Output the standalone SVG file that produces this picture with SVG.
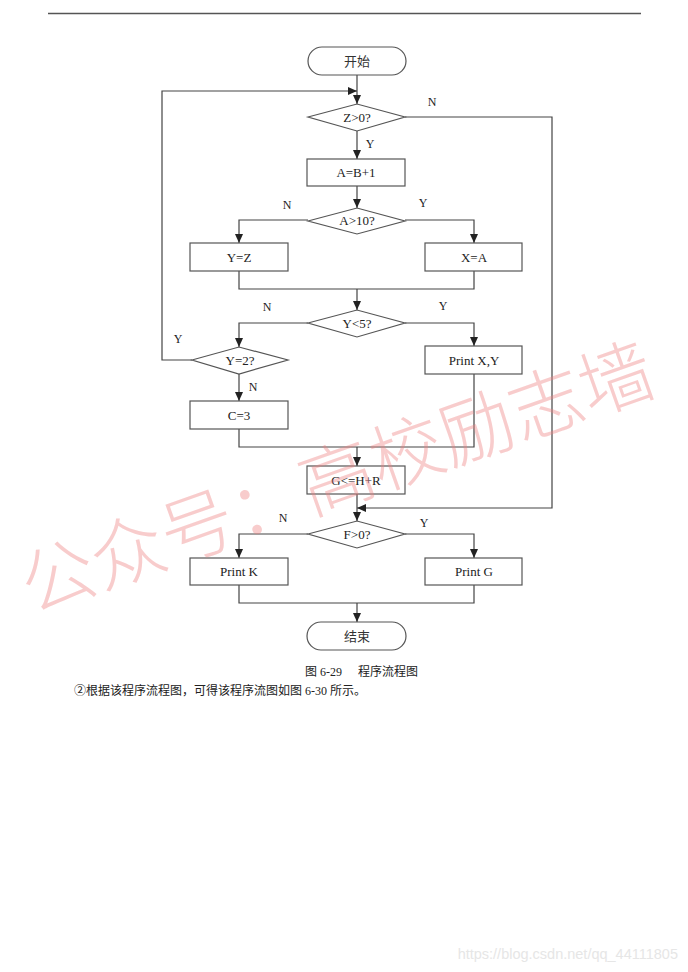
<svg xmlns="http://www.w3.org/2000/svg" width="688" height="972" viewBox="0 0 688 972">
<style>
.n{fill:#fff;stroke:#555;stroke-width:1.2}
.t{font-family:"Liberation Serif","Noto Sans CJK SC",serif;font-size:13px;fill:#222;text-anchor:middle}
.c{font-family:"Noto Sans CJK SC",sans-serif;font-size:13px;fill:#333;text-anchor:middle}
.l{font-family:"Liberation Serif",serif;font-size:12px;fill:#222;text-anchor:middle}
.e{fill:none;stroke:#444;stroke-width:1.2}
.cap{font-family:"Liberation Serif","Noto Sans CJK SC",serif;font-size:12px;fill:#222}
</style>
<defs>
<marker id="arr" markerWidth="9" markerHeight="8" refX="9" refY="4" orient="auto" markerUnits="userSpaceOnUse"><path d="M0,0 L9,4 L0,8 z" fill="#222"/></marker>
</defs>
<rect width="688" height="972" fill="#fff"/>
<line x1="48" y1="13.5" x2="641" y2="13.5" stroke="#555" stroke-width="1.3"/>

<g id="connectors">
<path class="e" d="M357,75 V104" marker-end="url(#arr)"/>
<path class="e" d="M192,360 H162 V91 H357" marker-end="url(#arr)"/>
<path class="e" d="M405,117 H552 V508 H357" marker-end="url(#arr)"/>
<path class="e" d="M357,131 V159" marker-end="url(#arr)"/>
<path class="e" d="M357,186 V208" marker-end="url(#arr)"/>
<path class="e" d="M308,220 H239 V243" marker-end="url(#arr)"/>
<path class="e" d="M405,220 H474 V243" marker-end="url(#arr)"/>
<path class="e" d="M239,271 V289 H474 V271"/>
<path class="e" d="M357,289 V310" marker-end="url(#arr)"/>
<path class="e" d="M308,323 H239 V347" marker-end="url(#arr)"/>
<path class="e" d="M405,323 H474 V346" marker-end="url(#arr)"/>
<path class="e" d="M239,374 V401" marker-end="url(#arr)"/>
<path class="e" d="M239,429 V447 H474 V374"/>
<path class="e" d="M357,447 V466" marker-end="url(#arr)"/>
<path class="e" d="M357,494 V521" marker-end="url(#arr)"/>
<path class="e" d="M308,534 H239 V558" marker-end="url(#arr)"/>
<path class="e" d="M405,534 H474 V558" marker-end="url(#arr)"/>
<path class="e" d="M239,585 V603 H474 V585"/>
<path class="e" d="M357,603 V622" marker-end="url(#arr)"/>
<text class="l" x="370" y="148">Y</text>
<text class="l" x="432" y="106">N</text>
<text class="l" x="287" y="209">N</text>
<text class="l" x="423" y="207">Y</text>
<text class="l" x="267" y="311">N</text>
<text class="l" x="443" y="310">Y</text>
<text class="l" x="178" y="343">Y</text>
<text class="l" x="253" y="391">N</text>
<text class="l" x="283" y="522">N</text>
<text class="l" x="424" y="527">Y</text>
</g>

<g id="start"><rect class="n" x="308" y="47" width="98" height="28" rx="14"/><text class="c" x="357" y="66">开始</text></g>
<g id="d_z"><polygon class="n" points="308,117 357,104 405,117 357,131"/><text class="t" x="357" y="121.5">Z&gt;0?</text></g>
<g id="p_a"><rect class="n" x="307" y="159" width="98" height="27"/><text class="t" x="356" y="177">A=B+1</text></g>
<g id="d_a"><polygon class="n" points="308,221 357,208 405,221 357,234"/><text class="t" x="357" y="225">A&gt;10?</text></g>
<g id="p_yz"><rect class="n" x="190" y="243" width="98" height="28"/><text class="t" x="239" y="261.5">Y=Z</text></g>
<g id="p_xa"><rect class="n" x="425" y="243" width="97" height="28"/><text class="t" x="474" y="261.5">X=A</text></g>
<g id="d_y5"><polygon class="n" points="308,323 357,310 405,323 357,337"/><text class="t" x="357" y="327.5">Y&lt;5?</text></g>
<g id="d_y2"><polygon class="n" points="192,360 239,347 288,360 239,374"/><text class="t" x="240" y="364.5">Y=2?</text></g>
<g id="p_print_xy"><rect class="n" x="425" y="346" width="97" height="28"/><text class="t" x="474" y="364.5">Print X,Y</text></g>
<g id="p_c3"><rect class="n" x="190" y="401" width="98" height="28"/><text class="t" x="239" y="419.5">C=3</text></g>
<g id="p_g"><rect class="n" x="307" y="466" width="98" height="28"/><text class="t" x="356" y="484.5">G&lt;=H+R</text></g>
<g id="d_f"><polygon class="n" points="308,534 357,521 405,534 357,548"/><text class="t" x="357" y="538.5">F&gt;0?</text></g>
<g id="p_pk"><rect class="n" x="190" y="558" width="98" height="27"/><text class="t" x="239" y="576">Print K</text></g>
<g id="p_pg"><rect class="n" x="425" y="558" width="97" height="27"/><text class="t" x="474" y="576">Print G</text></g>
<g id="end"><rect class="n" x="307" y="622" width="99" height="28" rx="14"/><text class="c" x="357" y="641">结束</text></g>

<text class="cap" x="305" y="676">图 6-29</text>
<text class="cap" x="358" y="676">程序流程图</text>
<text class="cap" x="74" y="695">②根据该程序流程图，可得该程序流图如图 6-30 所示。</text>

<text x="32" y="614" transform="rotate(-19.5 32 614)" font-family="'Noto Sans CJK SC',sans-serif" font-weight="300" font-size="74" fill="#ee8080" fill-opacity="0.4">公众号：高校励志墙</text>

<text x="678" y="959" text-anchor="end" font-family="'Liberation Sans',Arial,sans-serif" font-size="14.5" fill="#e6e6e6">https://blog.csdn.net/qq_44111805</text>
</svg>
